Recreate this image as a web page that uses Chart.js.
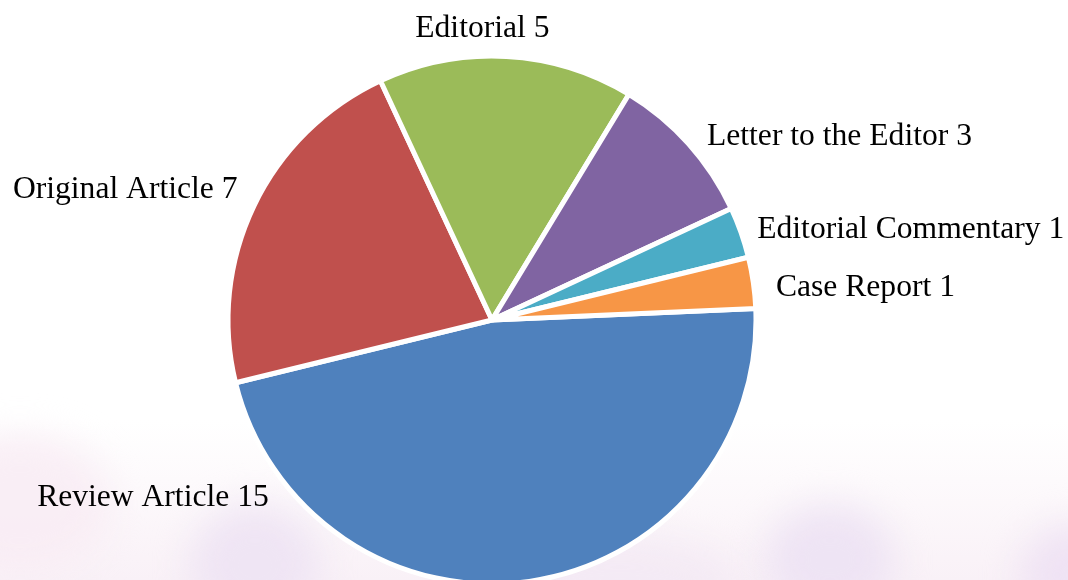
<!DOCTYPE html>
<html>
<head>
<meta charset="utf-8">
<script src="https://cdn.jsdelivr.net/npm/chart.js@4.4.0/dist/chart.umd.min.js"></script>
<style>
  html, body { margin: 0; padding: 0; background: #fff; overflow: hidden; }
  #wrap { width: 1068px; height: 580px; position: relative; }
</style>
</head>
<body>
<div id="wrap"><canvas id="pieChart"></canvas></div>
<script>
const categories = ['Review Article', 'Original Article', 'Editorial', 'Letter to the Editor', 'Editorial Commentary', 'Case Report'];
const counts = [15, 7, 5, 3, 1, 1];
const colors = ['#4F81BD', '#C0504D', '#9BBB59', '#8064A2', '#4BACC6', '#F79646'];
// label nudges: degrees away from the slice middle, and distance as share of the radius
const labelShift = [60, 2, -5, 1, 0, 1];
const labelDist = [1.075, 1.088, 1.114, 1.077, 1.065, 1.084];

// faint blurry backdrop near the bottom
const backdrop = {
  id: 'backdrop',
  beforeDraw(chart) {
    const ctx = chart.ctx;
    ctx.save();
    ctx.fillStyle = '#ffffff';
    ctx.fillRect(0, 0, chart.width, chart.height);
    const g = ctx.createLinearGradient(0, 420, 0, chart.height);
    g.addColorStop(0, 'rgba(250,242,247,0)');
    g.addColorStop(1, 'rgba(249,241,247,1)');
    ctx.fillStyle = g;
    ctx.fillRect(0, 420, chart.width, chart.height - 420);
    ctx.filter = 'blur(18px)';
    const blobs = [
      [20, 505, 90, 70, 'rgba(248,236,244,0.9)'],
      [255, 565, 65, 60, 'rgba(238,228,243,0.95)'],
      [830, 560, 65, 55, 'rgba(237,227,243,0.95)'],
      [1075, 575, 55, 50, 'rgba(238,226,243,0.95)'],
      [620, 585, 120, 50, 'rgba(243,233,244,0.8)']
    ];
    blobs.forEach(([x, y, rx, ry, c]) => {
      ctx.fillStyle = c;
      ctx.beginPath();
      ctx.ellipse(x, y, rx, ry, 0, 0, Math.PI * 2);
      ctx.fill();
    });
    ctx.restore();
  }
};

const outsideLabels = {
  id: 'outsideLabels',
  afterDatasetsDraw(chart) {
    const ctx = chart.ctx;
    const meta = chart.getDatasetMeta(0);
    ctx.save();
    ctx.font = '31.6px "Liberation Serif", "Times New Roman", serif';
    ctx.fillStyle = '#000';
    ctx.textBaseline = 'alphabetic';
    meta.data.forEach((arc, i) => {
      const p = arc.getProps(['x', 'y', 'startAngle', 'endAngle', 'outerRadius'], true);
      const a = (p.startAngle + p.endAngle) / 2 + labelShift[i] * Math.PI / 180;
      const r = p.outerRadius * labelDist[i];
      const lx = p.x + Math.cos(a) * r;
      const ly = p.y + Math.sin(a) * r;
      const c = Math.cos(a);
      ctx.textAlign = c > 0.2 ? 'left' : (c < -0.2 ? 'right' : 'center');
      ctx.fillText(categories[i] + ' ' + counts[i], lx, ly + 11);
    });
    ctx.restore();
  }
};

new Chart(document.getElementById('pieChart'), {
  type: 'pie',
  data: {
    labels: categories,
    datasets: [{
      data: counts,
      backgroundColor: colors,
      borderColor: '#ffffff',
      borderWidth: 5,
      clip: false
    }]
  },
  options: {
    responsive: true,
    maintainAspectRatio: false,
    animation: false,
    rotation: 87.5,
    radius: 264,
    layout: { padding: { left: 0, right: 84, top: 60, bottom: 0 } },
    plugins: {
      legend: { display: false },
      tooltip: { enabled: false }
    }
  },
  plugins: [backdrop, outsideLabels]
});
</script>
</body>
</html>
